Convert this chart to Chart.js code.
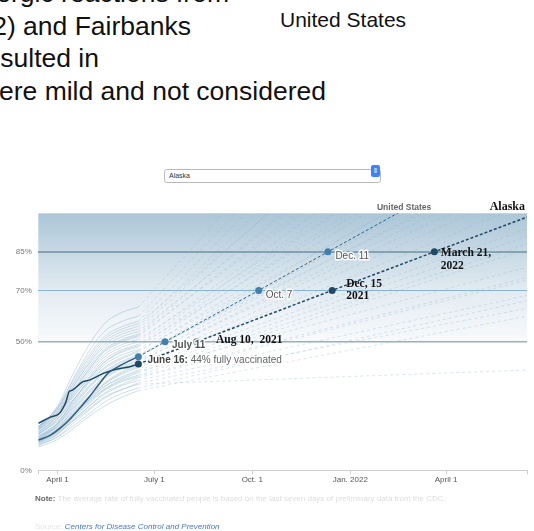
<!DOCTYPE html>
<html>
<head>
<meta charset="utf-8">
<script src="https://cdn.jsdelivr.net/npm/chart.js@4.4.1/dist/chart.umd.min.js"></script>
<style>
  html, body { margin: 0; padding: 0; width: 534px; height: 531px; overflow: hidden; background: #fff; }
  body { position: relative; font-family: "Liberation Sans", Arial, Helvetica, sans-serif; }
  .story { position: absolute; font-size: 26.5px; line-height: 32.5px; color: #111; white-space: nowrap; }
  .aside { position: absolute; left: 280px; top: 8px; font-size: 21px; line-height: 24px; color: #111; }
  .picker { position: absolute; left: 164px; top: 164px; width: 217px; height: 14px; }
  .picker select { -webkit-appearance: none; appearance: none; box-sizing: border-box; width: 100%; height: 14px;
    margin: 0; padding: 0 0 0 4px; font-size: 7px; font-family: inherit; color: #333; background: #fff;
    border: 1px solid #b9b9b9; border-radius: 3px; }
  .picker .arrows { position: absolute; right: 1px; top: 1px; width: 9px; height: 12px; border-radius: 2px;
    background: #3b83f6; color: #fff; font-size: 7px; line-height: 12px; text-align: center; font-family: "DejaVu Sans", sans-serif; }
  #wrap { position: absolute; left: 0; top: 195px; width: 534px; height: 300px; }
  .note { position: absolute; left: 35px; top: 494px; font-size: 8px; line-height: 10px; color: #ddd; white-space: nowrap; }
  .note b { color: #666; }
  .source { position: absolute; left: 35px; top: 522px; font-size: 8px; line-height: 10px; color: #e6e6e6; white-space: nowrap; }
  .source i { color: #4a78c8; }
</style>
</head>
<body>
<div class="story" style="right:305px; top:-23px;">allergic reactions from</div>
<div class="story" style="right:343px; top:9.5px;">22) and Fairbanks</div>
<div class="story" style="right:435px; top:42px;">resulted in</div>
<div class="story" style="right:208px; top:74.5px;">were mild and not considered</div>
<div class="aside">United States</div>

<div class="picker"><select><option>Alaska</option></select><span class="arrows">&#8661;</span></div>

<div id="wrap"><canvas id="vaxChart" width="534" height="300"></canvas></div>

<div class="note"><b>Note:</b> The average rate of fully vaccinated people is based on the last seven days of preliminary data from the CDC.</div>
<div class="source">Source: <i>Centers for Disease Control and Prevention</i></div>

<script>
// dates and values
const startDate = '2021-03-14';
const endDate = '2022-06-16';
const todayDate = '2021-06-16';

const historyDates = ['2021-03-14', '2021-04-01', '2021-04-15', '2021-05-01', '2021-05-15', '2021-06-01', '2021-06-16'];

// share fully vaccinated per state, one row per state
const stateHistory = [
    [9, 12, 16, 21, 25, 28.5, 31],
    [10, 13, 17, 22, 26.5, 30, 32],
    [11, 14.5, 19, 24, 28.5, 31.5, 33.5],
    [9.5, 13, 18, 23.5, 28, 31.5, 34],
    [12, 15, 19.5, 25, 29.5, 33, 35],
    [10.5, 14, 19, 25, 30, 33.5, 36],
    [11, 15, 20.5, 26, 31, 34.5, 36.5],
    [12.5, 16, 21, 27, 31.5, 35, 37],
    [10, 14, 20, 26.5, 31.5, 35.5, 38],
    [13, 16.5, 21.5, 27.5, 32.5, 36, 38.5],
    [11.5, 15.5, 21, 27.5, 32.5, 36.5, 39],
    [12, 16, 22, 28.5, 33.5, 37.5, 40],
    [10.5, 15, 21.5, 28, 33.5, 38, 40.5],
    [13.5, 17, 22.5, 29, 34, 38.5, 41],
    [11, 16, 23, 30, 35.5, 39.5, 42],
    [12, 17, 23.5, 30.5, 36, 40, 42.5],
    [14, 18, 24, 31, 36.5, 40.5, 43],
    [12.5, 17.5, 24.5, 32, 37.5, 41.5, 44],
    [13, 18, 25, 32.5, 38, 42, 44.5],
    [14.5, 19, 25.5, 33, 38.5, 42.5, 45],
    [13, 18.5, 26, 34, 39.5, 43.5, 46],
    [15, 20, 27, 34.5, 40, 44, 46.5],
    [14, 19.5, 27, 35, 41, 45, 47],
    [12, 18, 26.5, 35.5, 42, 46, 48],
    [15.5, 21, 28.5, 36, 42, 46.5, 48.5],
    [14, 20, 28, 36.5, 43, 47, 49],
    [16, 21.5, 29, 37.5, 44, 48, 50],
    [15, 21, 29.5, 38.5, 45, 49, 51],
    [16.5, 22.5, 30.5, 39.5, 46, 50, 52],
    [14.5, 21, 30, 39.5, 46.5, 50.5, 52.5],
    [16, 22, 31, 40.5, 47, 51, 53],
    [17, 23, 32, 41.5, 48, 52, 54],
    [15.5, 22.5, 32, 42, 49, 53, 55],
    [17, 24, 33, 43, 50, 54, 56],
    [16.5, 23.5, 33.5, 44, 51, 55, 57],
    [17, 24.5, 34.5, 45, 52, 56, 58],
    [16, 24, 35, 46.5, 54, 58, 60],
    [16.5, 25, 37, 49, 57, 61.5, 63.5]
];
// where each state's projection sits at the right edge (clipped above 100)
const stateProjection = [60, 66, 39, 63, 68, 74, 75, 86, 88, 79, 91, 94, 104, 110, 118, 114, 122, 126, 132, 120,
    138, 130, 145, 150, 140, 155, 160, 148, 170, 165, 180, 175, 190, 200, 185, 210, 220, 230];

const usDates = ['2021-03-14', '2021-03-25', '2021-04-03', '2021-04-12', '2021-04-21', '2021-05-01',
    '2021-05-10', '2021-05-19', '2021-05-29', '2021-06-07', '2021-06-16'];
const usValues = [11.7, 13.6, 16.2, 19.6, 23.8, 28.6, 33.5, 38, 40.5, 42.5, 44.2];
const usProjDates = ['2021-06-16', '2021-07-11', '2021-10-07', '2021-12-11', '2022-06-16'];
const usProjValues = [44.2, 50, 70, 85, 128];

const alaskaDates = ['2021-03-14', '2021-03-25', '2021-04-03', '2021-04-06', '2021-04-09', '2021-04-12', '2021-04-15',
    '2021-04-25', '2021-05-01', '2021-05-14', '2021-05-26', '2021-06-08', '2021-06-16'];
const alaskaValues = [18.3, 20.6, 22.2, 24.1, 26.7, 30.6, 31.2, 34.5, 35.1, 37.7, 39.3, 40.3, 41.4];
const alaskaProjDates = ['2021-06-16', '2021-08-10', '2021-12-15', '2022-03-21', '2022-06-16'];
const alaskaProjValues = [41.4, 50, 70, 85, 98.5];

const yTicks = [0, 50, 70, 85];
const xTickDates = ['2021-03-14', '2021-04-01', '2021-07-01', '2021-10-01', '2022-01-01', '2022-04-01', '2022-06-16'];
const xTickLabels = ['', 'April 1', 'July 1', 'Oct. 1', 'Jan. 2022', 'April 1', ''];

const sans = "'Liberation Sans', Arial, Helvetica, sans-serif";
const serif = "'Liberation Serif', 'Times New Roman', serif";

function dayNum(d) {
    return (Date.parse(d) - Date.parse(startDate)) / 86400000;
}

function toPoints(dates, values) {
    return dates.map((d, i) => ({x: dayNum(d), y: values[i]}));
}

// text next to the marks, anchored on dates and values
const labels = [
    {date: todayDate, value: 42.8, dx: 9, dy: 0, parts: [
        {text: 'June 16: ', font: 'bold 10px ' + sans, color: '#444'},
        {text: '44% fully vaccinated', font: '10px ' + sans, color: '#666'}], halo: true},
    {date: '2021-07-11', value: 50, dx: 7, dy: 3.5, parts: [{text: 'July 11', font: 'bold 10px ' + sans, color: '#555'}], halo: true},
    {date: '2021-10-07', value: 70, dx: 7, dy: 4.5, parts: [{text: 'Oct. 7', font: '10px ' + sans, color: '#555'}], halo: true},
    {date: '2021-12-11', value: 85, dx: 7.5, dy: 4.5, parts: [{text: 'Dec. 11', font: '10px ' + sans, color: '#555'}], halo: true},
    {date: '2021-08-10', value: 50, dx: 19, dy: -1.5, parts: [{text: 'Aug 10,  2021', font: 'bold 11.5px ' + serif, color: '#111'}]},
    {date: '2021-12-15', value: 70, dx: 14, dy: -6.5, parts: [{text: 'Dec, 15', font: 'bold 11.5px ' + serif, color: '#111'}]},
    {date: '2021-12-15', value: 70, dx: 14, dy: 5.5, parts: [{text: '2021', font: 'bold 11.5px ' + serif, color: '#111'}]},
    {date: '2022-03-21', value: 85, dx: 6.5, dy: 1.5, parts: [{text: 'March 21,', font: 'bold 11.5px ' + serif, color: '#111'}]},
    {date: '2022-03-21', value: 85, dx: 6.5, dy: 14, parts: [{text: '2022', font: 'bold 11.5px ' + serif, color: '#111'}]},
    {date: endDate, value: 100, dx: -2, dy: -6, align: 'right', parts: [{text: 'Alaska', font: 'bold 12px ' + serif, color: '#111'}]},
    {date: '2022-02-14', value: 100, dx: 7, dy: -6, align: 'center', parts: [{text: 'United States', font: 'bold 8.5px ' + sans, color: '#666'}]}
];

const backdrop = {
    id: 'backdrop',
    beforeDraw(chart) {
        const {ctx, chartArea, scales} = chart;
        const top = scales.y.getPixelForValue(100);
        const bottom = scales.y.getPixelForValue(50);
        const grad = ctx.createLinearGradient(0, top, 0, bottom);
        grad.addColorStop(0, '#acc6d7');
        grad.addColorStop(0.6, '#e2ebf1');
        grad.addColorStop(1, '#f8fafc');
        ctx.save();
        ctx.fillStyle = grad;
        ctx.fillRect(chartArea.left, top, chartArea.right - chartArea.left, bottom - top);
        ctx.restore();
    }
};

const callouts = {
    id: 'callouts',
    afterDatasetsDraw(chart) {
        const {ctx, scales} = chart;
        ctx.save();
        ctx.textBaseline = 'middle';
        labels.forEach(l => {
            let x = scales.x.getPixelForValue(dayNum(l.date)) + l.dx;
            const y = scales.y.getPixelForValue(l.value) + l.dy;
            if (l.align) {
                ctx.font = l.parts[0].font;
                const w = ctx.measureText(l.parts[0].text).width;
                x = l.align === 'right' ? x - w : x - w / 2;
            }
            l.parts.forEach(p => {
                ctx.font = p.font;
                if (l.halo) {
                    ctx.strokeStyle = 'rgba(255,255,255,0.9)';
                    ctx.lineWidth = 3;
                    ctx.lineJoin = 'round';
                    ctx.strokeText(p.text, x, y);
                }
                ctx.fillStyle = p.color;
                ctx.fillText(p.text, x, y);
                x += ctx.measureText(p.text).width;
            });
        });
        ctx.restore();
    }
};

const datasets = [
    {data: toPoints(usProjDates, usProjValues), borderColor: '#2e6389', borderWidth: 1, borderDash: [3, 2],
        pointRadius: ctx => ctx.dataIndex < 4 ? 3.5 : 0, pointBackgroundColor: '#3f80ae', pointBorderWidth: 0},
    {data: toPoints(alaskaProjDates, alaskaProjValues), borderColor: '#1e4a65', borderWidth: 1.5, borderDash: [3, 2],
        pointRadius: ctx => ctx.dataIndex < 4 ? 3.5 : 0, pointBackgroundColor: '#1e4a65', pointBorderWidth: 0},
    {data: toPoints(usDates, usValues), borderColor: '#2f5f80', borderWidth: 1.5, pointRadius: 0, cubicInterpolationMode: 'monotone'},
    {data: toPoints(alaskaDates, alaskaValues), borderColor: '#1e4a65', borderWidth: 1.5, pointRadius: 0, cubicInterpolationMode: 'monotone'}
];

stateHistory.forEach(row => {
    datasets.push({data: toPoints(historyDates, row), borderColor: 'rgba(130,172,200,0.4)', borderWidth: 1,
        pointRadius: 0, cubicInterpolationMode: 'monotone'});
});
stateHistory.forEach((row, i) => {
    datasets.push({data: toPoints([todayDate, endDate], [row[6], stateProjection[i]]),
        borderColor: 'rgba(140,180,210,0.42)', borderWidth: 0.8, borderDash: [3, 3], pointRadius: 0});
});

new Chart(document.getElementById('vaxChart'), {
    type: 'line',
    data: {datasets: datasets},
    plugins: [backdrop, callouts],
    options: {
        responsive: false,
        animation: false,
        events: [],
        layout: {padding: {top: 18.3, left: 0, right: 7, bottom: 4.7}},
        plugins: {legend: {display: false}, tooltip: {enabled: false}},
        scales: {
            x: {
                type: 'linear',
                min: 0,
                max: dayNum(endDate),
                afterBuildTicks: scale => { scale.ticks = xTickDates.map(d => ({value: dayNum(d)})); },
                afterFit: scale => { scale.height = 20; },
                ticks: {
                    autoSkip: false,
                    maxRotation: 0,
                    padding: 1,
                    color: '#555',
                    font: {size: 8, family: sans},
                    callback: (value, index) => xTickLabels[index]
                },
                grid: {drawOnChartArea: false, drawTicks: true, tickLength: 4, color: '#cfcfcf'},
                border: {color: '#cfcfcf'}
            },
            y: {
                min: 0,
                max: 100,
                afterBuildTicks: scale => { scale.ticks = yTicks.map(v => ({value: v})); },
                afterFit: scale => { scale.width = 38.3; },
                ticks: {
                    padding: 6.5,
                    color: '#777',
                    font: {size: 8, family: sans},
                    callback: value => value + '%'
                },
                grid: {
                    drawTicks: false,
                    color: ctx => {
                        const v = ctx.tick.value;
                        if (v === 85) return '#86a2b2';
                        if (v === 70) return '#8ab5d0';
                        if (v === 50) return '#98b0bd';
                        return 'rgba(0,0,0,0)';
                    },
                    lineWidth: ctx => ctx.tick.value === 85 ? 2 : (ctx.tick.value === 50 ? 1.5 : 1)
                },
                border: {display: false}
            }
        }
    }
});
</script>
</body>
</html>
